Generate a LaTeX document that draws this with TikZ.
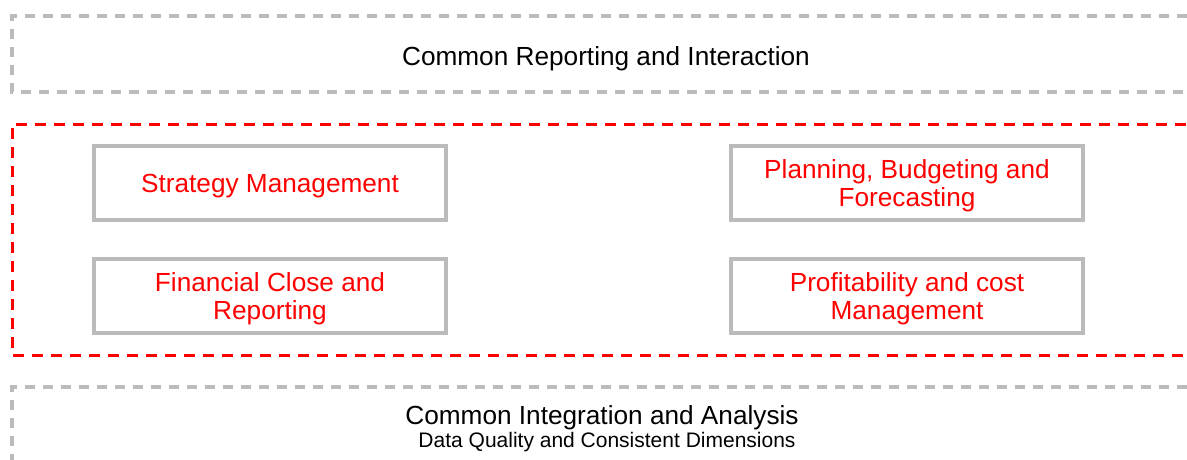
\documentclass[tikz,border=0pt]{standalone}
\usepackage{fontspec}
\setmainfont{Liberation Sans}
\definecolor{boxgray}{HTML}{BBBBBB}
\definecolor{darkred}{HTML}{FF0000}
\begin{document}
\begin{tikzpicture}[x=1pt,y=-1pt,
  layer/.style={draw=boxgray,line width=3.1pt,dash pattern=on 10pt off 8pt},
  redlayer/.style={draw=darkred,line width=3pt,dash pattern=on 11pt off 8pt},
  module/.style={draw=boxgray,line width=3.4pt,minimum width=352pt,minimum height=74pt,inner sep=0pt},
  modtext/.style={text=darkred,align=center,inner sep=0pt,font=\fontsize{26.2}{28.5}\selectfont},
  title/.style={font=\fontsize{26.2}{29}\selectfont,text=black,inner sep=0pt,anchor=base},
  subtitle/.style={font=\fontsize{21}{24}\selectfont,text=black,inner sep=0pt,anchor=base}]
\useasboundingbox (0,0) rectangle (1187,459);
\begin{scope}
\clip (0,0) rectangle (1187,459);
\draw[layer] (1205,16) -- (12,16) -- (12,92) -- (1205,92);
\draw[redlayer] (1205,124) -- (12,124) -- (12,355) -- (1205,355);
\draw[layer] (1205,387) -- (12,387) -- (12,470);
\end{scope}
\node[title] (rep) at (606,65) {Common Reporting and Interaction};
\node[module] (sm) at (270,183) {};
\node[module] (pbf) at (907,183) {};
\node[module] (fcr) at (270,296) {};
\node[module] (pcm) at (907,296) {};
\node[modtext,text depth=0pt] (smt) at ([yshift=-0.8pt]sm.center) {Strategy Management};
\node[modtext] (pbft) at ([yshift=-2.5pt]pbf.center) {Planning, Budgeting and\\Forecasting};
\node[modtext] (fcrt) at ([yshift=-2.5pt]fcr.center) {Financial Close and\\Reporting};
\node[modtext] (pcmt) at ([yshift=-2.5pt]pcm.center) {Profitability and cost\\Management};
\node[title] (int) at (602,424) {Common Integration and Analysis};
\node[subtitle] (dq) at (607,447.5) {Data Quality and Consistent Dimensions};
\end{tikzpicture}
\end{document}
